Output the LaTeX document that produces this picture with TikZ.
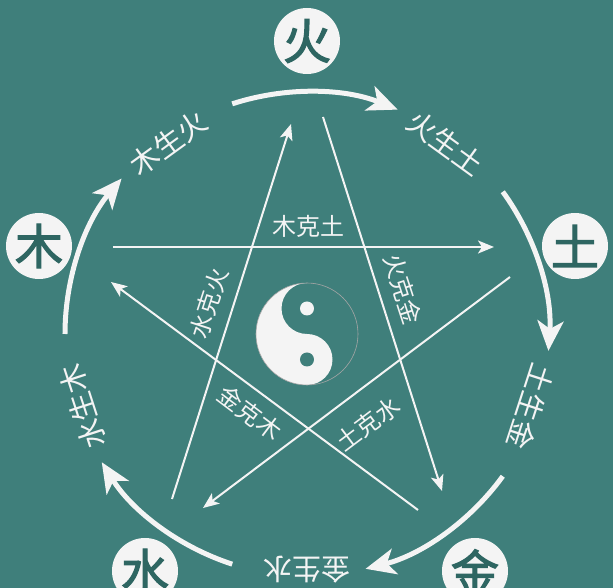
\documentclass[tikz,border=0pt]{standalone}
\usepackage{fontspec}
\newfontfamily\cjk{Noto Sans CJK SC}
\newfontfamily\cjkb[FakeBold=2.5]{Noto Sans CJK SC}
\usetikzlibrary{arrows.meta}
\definecolor{teal}{HTML}{3F7F7B}
\definecolor{darkteal}{HTML}{2E6662}
\definecolor{chalk}{HTML}{F4F4F4}
\tikzset{
  element/.style={circle, fill=chalk, minimum size=66pt, inner sep=0pt, text=darkteal, font=\cjkb\fontsize{48}{48}\selectfont},
  shengarc/.style={draw=chalk, line width=5pt, -{Stealth[length=30pt, width=26pt, inset=8pt]}},
  kearrow/.style={draw=chalk, line width=2pt, -{Stealth[length=16pt, width=13pt, inset=4pt]}},
  shenglabel/.style={text=chalk, font=\cjk\fontsize{29}{29}\selectfont},
  kelabel/.style={text=chalk, font=\cjk\fontsize{24}{24}\selectfont}
}
\begin{document}
\begin{tikzpicture}[x=1pt,y=1pt]
\fill[teal] (-307,-254) rectangle (306,334);
\useasboundingbox (-307,-254) rectangle (306,334);

%Elements
\node[element] (fire)  at (0,293)    {火};
\node[element] (earth) at (268,88)   {土};
\node[element] (metal) at (168,-237) {金};
\node[element] (water) at (-162,-237){水};
\node[element] (wood)  at (-268,88)  {木};

%Generating cycle
\foreach \a/\txt in {90/木生火, 18/火生土, -54/土生金, -126/金生水, 162/水生木}{
  \draw[shengarc] (\a+18:242) arc[start angle=\a+18, end angle=\a-22, radius=242];
  \node[shenglabel, rotate=\a-54] at (\a+36:236) {\txt};
}

%Overcoming star
\coordinate (woodA)  at (-194,87);  \coordinate (earthB) at (187,87);
\coordinate (fireA)  at (16,217);   \coordinate (metalB) at (135,-157);
\coordinate (waterA) at (-135,-165);\coordinate (fireB)  at (-16,210);
\coordinate (earthA) at (203,57);   \coordinate (waterB) at (-104,-174);
\coordinate (metalA) at (111,-176); \coordinate (woodB)  at (-196,52);
\draw[kearrow] (woodA) -- (earthB);
\draw[kearrow] (fireA) -- (metalB);
\draw[kearrow] (waterA) -- (fireB);
\draw[kearrow] (earthA) -- (waterB);
\draw[kearrow] (metalA) -- (woodB);
\node[kelabel] (wk) at (2,108) {木克土};
\node[kelabel, rotate=-72] (fk) at (96,45) {火克金};
\node[kelabel, rotate=72] (sk) at (-98,31) {水克火};
\node[kelabel, rotate=-37] (jk) at (-57,-79) {金克木};
\node[kelabel, rotate=37] (tk) at (61,-90) {土克水};

%Taiji
\fill[chalk] (0,51) arc[start angle=90, end angle=270, radius=51]
  arc[start angle=-90, end angle=90, radius=25.5]
  arc[start angle=-90, end angle=-270, radius=25.5] -- cycle;
\draw[gray!70, line width=0.6pt] (0,0) circle[radius=51];
\fill[chalk] (0,25.5) circle[radius=7];
\fill[teal] (0,-25.5) circle[radius=7];
\end{tikzpicture}
\end{document}
